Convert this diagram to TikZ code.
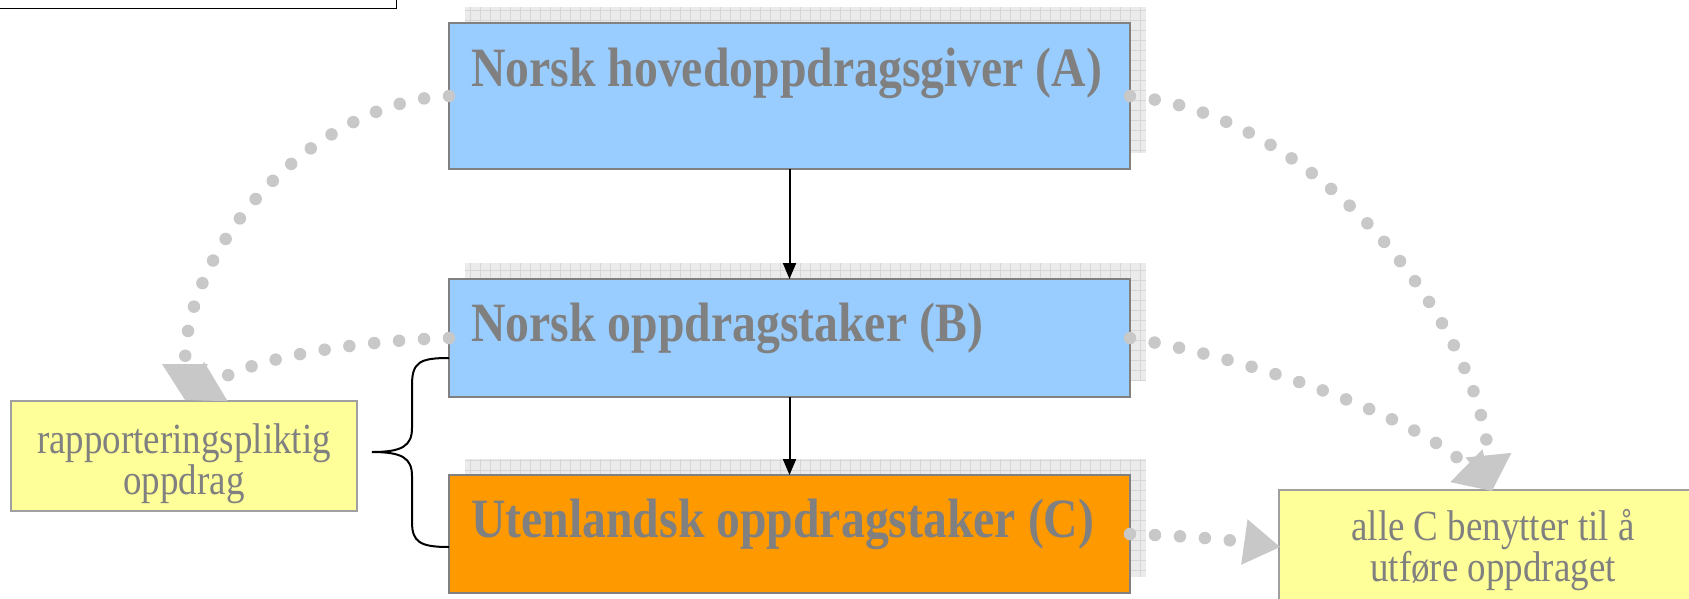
\documentclass[tikz,border=0pt]{standalone}
\usepackage{fontspec}
\setmainfont{Liberation Serif}[FakeStretch=0.86]
\usetikzlibrary{arrows.meta,calc,backgrounds}
\definecolor{boxblue}{HTML}{99CCFF}
\definecolor{boxorange}{HTML}{FF9900}
\definecolor{noteyellow}{HTML}{FFFF99}
\definecolor{textgray}{HTML}{808080}
\definecolor{dotgray}{HTML}{C8C8C8}
\definecolor{shadefill}{HTML}{EBEBEB}
\definecolor{shadeline}{HTML}{D6D6D6}
\definecolor{bordergray}{HTML}{808080}
\definecolor{noteborder}{HTML}{A0A0A0}
\begin{document}
\begin{tikzpicture}[x=1pt,y=-1pt,
  mainbox/.style={draw=bordergray, line width=2.5pt, minimum width=681pt, inner sep=0pt, outer sep=0pt, anchor=north west},
  notebox/.style={draw=noteborder, line width=1.2pt, fill=noteyellow, inner sep=0pt, outer sep=0pt, anchor=north west},
  boldlabel/.style={text=textgray, font=\fontsize{55.5}{55.5}\selectfont\bfseries, anchor=base west, inner sep=0pt},
  notelabel/.style={text=textgray, font=\fontsize{43}{43}\selectfont, anchor=base, inner sep=0pt},
  dotflow/.style={draw=dotgray, line width=12.5pt, line cap=round, dash pattern=on 0pt off 25pt,
                  -{Triangle[width=46pt,length=36pt,line width=0pt]}},
  flow/.style={draw=black, line width=2pt, -{Triangle[width=13pt,length=16pt]}},
  bracestyle/.style={draw=black, line width=2pt},
  shade/.style={fill=shadefill},
  shadegrid/.style={draw=shadeline, line width=0.8pt, step=10pt},
]
\useasboundingbox (0,0) rectangle (1689,598);

% top-left partial box
\node[draw=black, line width=1.5pt, fill=white, minimum width=420pt, minimum height=30pt, inner sep=0pt, anchor=south east] (topbox) at (397,9) {};

% main boxes
\node[mainbox, fill=boxblue, minimum height=146pt] (A) at (449,23) {};
\node[mainbox, fill=boxblue, minimum height=118pt] (B) at (449,279) {};
\node[mainbox, fill=boxorange, minimum height=118pt] (C) at (449,475) {};

% shadows
\begin{scope}[on background layer]
  \foreach \b in {A,B,C} {
    \fill[shade] ($(\b.north west)+(16,-16)$) rectangle ($(\b.south east)+(16,-16)$);
    \draw[shadegrid] ($(\b.north west)+(16,-16)$) grid ($(\b.south east)+(16,-16)$);
  }
\end{scope}

% labels
\node[boldlabel] (tA) at (471,86) {Norsk hovedoppdragsgiver (A)};
\node[boldlabel] (tB) at (471,341) {Norsk oppdragstaker (B)};
\node[boldlabel] (tC) at (471,537) {Utenlandsk oppdragstaker (C)};

% note boxes
\node[notebox, minimum width=346pt, minimum height=110pt] (L) at (11,401) {};
\node[notebox, minimum width=440pt, minimum height=140pt] (R) at (1279,490) {};
\node[notelabel] (L1) at (184,453) {rapporteringspliktig};
\node[notelabel] (L2) at (184,494) {oppdrag};
\node[notelabel] (R1) at (1493,540) {alle C benytter til å};
\node[notelabel] (R2) at (1493,581) {utføre oppdraget};

% solid arrows
\draw[flow] (A.south) -- (B.north);
\draw[flow] (B.south) -- (C.north);

% brace
\coordinate (braceTop) at (449,358);
\coordinate (braceBot) at (449,547);
\draw[bracestyle] (braceTop) .. controls (420,358) and (412,362) .. (412,385) -- (412,428)
  .. controls (412,446) and (402,452) .. (372,452)
  .. controls (402,452) and (412,458) .. (412,476) -- (412,522)
  .. controls (412,542) and (420,547) .. (braceBot);

% dotted arrows
\coordinate (tipL) at (185,400);
\coordinate (tipR) at (1492,491);
\coordinate (tipC) at (1280,547);
\draw[dotflow] (A.west) .. controls (320,100) and (185,240) .. (tipL);
\draw[dotflow] (B.west) .. controls (370,340) and (260,355) .. (tipL);
\draw[dotflow] (A.east) .. controls (1320,115) and (1475,320) .. (tipR);
\draw[dotflow] (B.east) .. controls (1260,360) and (1420,420) .. (tipR);
\draw[dotflow] (C.east) .. controls (1190,536) and (1230,540) .. (tipC);
\end{tikzpicture}
\end{document}
